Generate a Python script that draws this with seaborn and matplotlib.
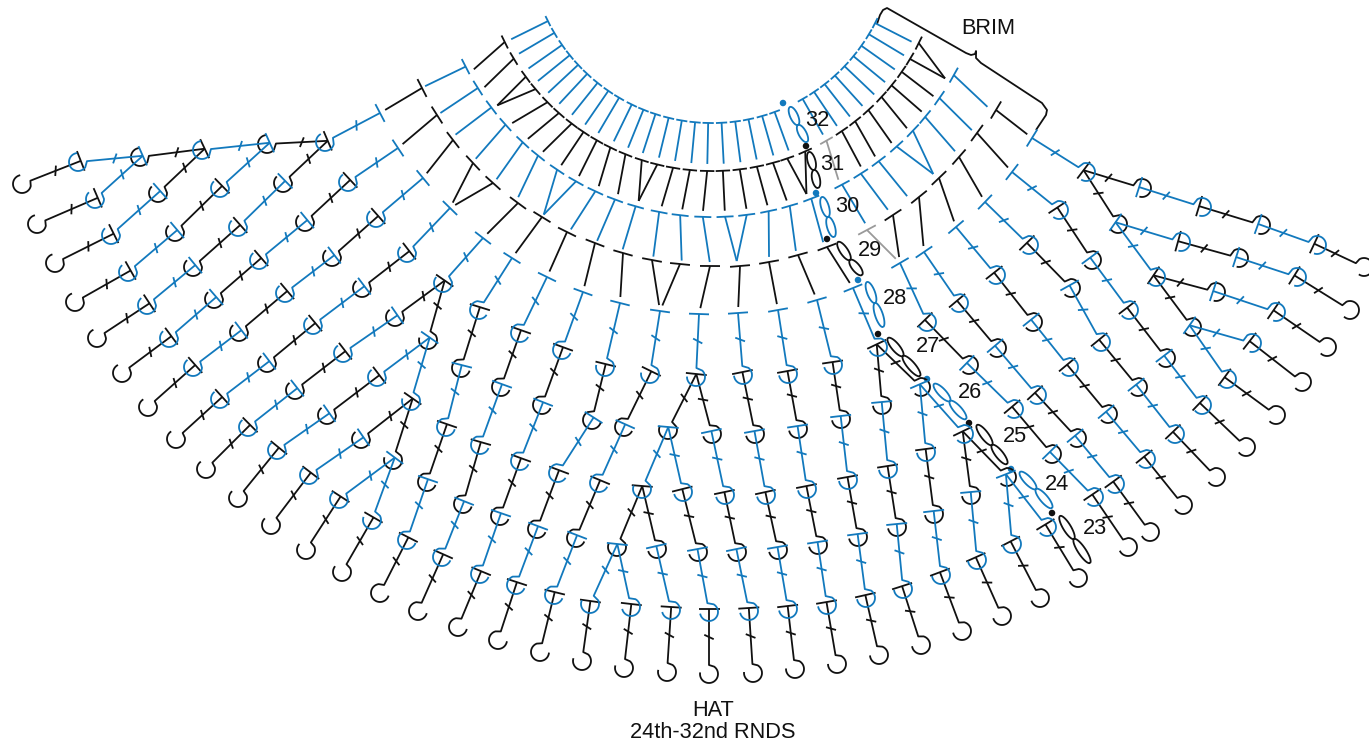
import numpy as np
import pandas as pd
import seaborn as sns
import matplotlib.pyplot as plt

# picture coordinates (x, y), y grows downward
# each chain: round 27 node, 26, 25, 24, 23, end hook
left_chains = [
    [(325,142),(267,144),(202,150),(140,157),(78,162),(22,184)],
    [(325,142),(267,144),(202,150),(140,157),(95,199),(37,224)],
    [(325,142),(267,144),(202,150),(158,193),(111,235),(55,263)],
    [(325,142),(267,144),(220,188),(175,232),(128,272),(75,302)],
    [(325,142),(283,183),(238,227),(193,267),(147,305),(97,338)],
    [(348,182),(305,222),(259,260),(214,299),(169,338),(122,373)],
    [(376,218),(332,257),(285,293),(239,332),(193,367),(148,407)],
    [(407,253),(362,288),(313,325),(267,363),(220,399),(176,439)],
    [(443,283),(395,317),(343,353),(295,390),(248,427),(206,469)],
    [(443,283),(428,340),(377,377),(327,415),(277,450),(238,498)],
    [(443,283),(428,340),(411,401),(361,439),(309,475),(271,525)],
    [(443,283),(428,340),(411,401),(393,460),(339,499),(306,550)],
    [(443,283),(428,340),(411,401),(393,460),(372,520),(342,572)],
]
# these columns have their hooks turned the other way
mirrored_chains = [
    [(479,310),(461,368),(446,427),(427,482),(407,540),(380,593)],
    [(520,333),(501,387),(480,445),(463,504),(442,557),(418,611)],
    [(562,350),(542,405),(520,461),(500,516),(480,574),(458,627)],
    [(605,367),(592,420),(558,473),(537,529),(516,585),(498,640)],
    [(650,374),(624,427),(599,483),(576,538),(554,595),(540,652)],
]
right_chains = [
    [(696,377),(668,430),(642,489),(617,547),(590,604),(582,661)],
    [(696,377),(668,430),(642,489),(617,547),(631,607),(624,668)],
    [(696,377),(668,430),(642,489),(657,549),(671,610),(667,672)],
    [(696,377),(668,430),(683,492),(698,552),(709,612),(709,674)],
    [(696,377),(712,434),(725,495),(737,552),(749,611),(753,673)],
    [(743,375),(755,434),(766,495),(778,550),(788,609),(795,669)],
    [(788,374),(798,429),(807,489),(818,545),(827,605),(837,664)],
    [(833,365),(841,419),(848,480),(858,537),(866,598),(879,655)],
    [(878,347),(882,405),(888,469),(897,527),(903,589),(921,645)],
    [(878,347),(921,387),(926,452),(934,514),(941,575),(962,631)],
    [(878,347),(921,387),(964,434),(971,495),(977,560),(1002,616)],
    [(878,347),(921,387),(964,434),(1007,477),(1012,544),(1040,598)],
    [(878,347),(921,387),(964,434),(1007,477),(1047,527),(1078,578)],
    [(927,322),(969,365),(1014,409),(1052,454),(1094,497),(1128,547)],
    [(959,303),(997,348),(1037,395),(1077,438),(1115,484),(1150,532)],
    [(996,275),(1033,322),(1069,367),(1108,414),(1146,459),(1183,505)],
    [(1029,245),(1071,288),(1101,342),(1138,387),(1175,434),(1216,477)],
    [(1059,210),(1092,260),(1129,310),(1166,358),(1202,405),(1246,447)],
    [(1086,172),(1118,224),(1156,277),(1192,327),(1227,379),(1276,415)],
    [(1086,172),(1118,224),(1156,277),(1192,327),(1252,343),(1302,382)],
    [(1086,172),(1118,224),(1156,277),(1216,292),(1276,312),(1327,347)],
    [(1086,172),(1118,224),(1181,242),(1239,258),(1297,277),(1350,310)],
    [(1086,172),(1142,188),(1202,207),(1261,225),(1317,245),(1364,267)],
]
stem_colors = ["black", "blue", "black", "blue", "black"]

# round 28 tops, same order as round 27 nodes
round27 = [(325,142),(348,182),(376,218),(407,253),(443,283),(479,310),(520,333),
           (562,350),(605,367),(650,374),(696,377),(743,375),(788,374),(833,365),
           (878,347),(927,322),(959,303),(996,275),(1029,245),(1059,210),(1086,172)]
round28 = [(380,113),(398,148),(423,178),(450,208),(483,238),(512,258),(547,277),
           (583,292),(620,303),(660,311),(699,314),(738,313),(778,310),(817,300),
           (853,288),(900,263),(924,252),(956,227),(985,202),(1012,172),(1032,138)]
# round 29 tops and the round 28 stitch each one goes into
round29 = [(422,88),(437,115),(453,140),(473,163),(493,183),(518,203),(542,217),(567,232),
           (595,243),(623,253),(652,260),(680,264),(710,266),(740,266),(769,262),(798,255),
           (827,247),(867,230),(893,215),(919,197),(939,178),(959,157),(977,133),(996,110)]
round29_into = [0,1,2,3,3,4,5,6,7,8,9,9,10,11,12,13,14,15,15,16,17,18,19,20]
round29_gray = [17]

# rounds 30-32 sit on arcs, angle in degrees from straight down
round30_top = [-62.8,-57.7,-52.8,-48.2,-43.1,-38.9,-34,-29.4,-24.9,-20.5,-16,-11,-6.6,-1.9,
               2.7,7.2,11.8,16.3,21,28,32.5,37,41.8,46.5,50.3,55.2,60.8]
round30_end = [-63,-57.5,-52.8,-47.2,-42,-37,-31.5,-31.5,-26,-20.9,-16.1,-10.5,-5.4,-0.4,
               4.4,4.4,10.2,15.1,20.2,28.4,33.1,37.3,43.4,43.4,49,53.8,58.8]
round31_top = [-63.8,-59.1,-53.7,-49.8,-45.4,-41.5,-37.4,-33.8,-29.9,-26.1,-22,-17.7,-13.7,-9.7,
               -5.5,-1.2,2.7,6.9,11.2,15.3,19,23.8,29.7,34.2,38.3,42.6,47.2,51,55.2,59,63.5]
round31_end = [-61.5,-57.1,-52.4,-52.4,-47.5,-42.8,-38.6,-33.8,-29.4,-24.7,-20.3,-15.7,-15.7,-10.7,
               -6.3,-1.9,2.7,7.3,11.8,16,20.4,20.4,27.8,33.3,37,41.5,46,50.7,54.8,59.3,59.3]
round31_gray = [22]
round32_top = [-63.7,-59.5,-55,-51,-47,-43,-38.7,-34.5,-30.5,-26,-22,-18,-13.7,-9.5,-5.3,-1.2,
               3,7.3,11.5,15.9,20,29.7,33.9,38,42.2,46.4,50.6,54.7,59,63]

# joining chains and the round numbers beside them
loop_labels = ["32","31","30","29","28","27","26","25","24","23"]
loop_colors = ["blue","black","blue","black","blue","black","blue","black","blue","black"]
loop_dots = [(783,103),(806,146),(816,193),(827,239),(858,280),(878,334),(927,379),(969,423),(1011,469),(1052,513)]
loop_start = [(790,107),(809,152),(822,197),(838,242),(867,282),(888,338),(934,384),(977,425),(1020,472),(1060,516)]
loop_mid = [(798,125),(814,170),(828,217),(850,260),(875,303),(903,356),(950,401),(992,445),(1036,489),(1074,539)]
loop_end = [(807,142),(818,188),(834,237),(862,275),(883,327),(920,376),(966,419),(1007,464),(1052,508),(1090,563)]
label_pos = [(817,120),(832,164),(847,207),(870,250),(895,299),(928,346),(970,393),(1015,436),(1057,484),(1095,529)]

brace = [(877,24),(880,15),(883,10),(887,8),(966,53),(971,55),(975,54),(976,51),(976,58),(981,63),
         (1042,103),(1047,110),(1046,115),(1036,130)]

CX, CY = 712, -60
R = 9.0
HALF_BAR = 10.5
palette = {"black": "#111111", "blue": "#1279BD", "gray": "#9A9A9A"}
rows = []
n_seg = 0


def add_line(points, color):
    global n_seg
    for x, y in points:
        rows.append((x, y, n_seg, color))
    n_seg += 1


def unit(a, b):
    v = np.array(b, float) - np.array(a, float)
    return v / np.hypot(*v)


def polar(r, deg):
    t = np.radians(deg)
    return np.array([CX + r * np.sin(t), CY + r * np.cos(t)])


def tangent(p):
    u = unit((CX, CY), p)
    return np.array([-u[1], u[0]])


def add_bar(center, along, half, color):
    center = np.array(center, float)
    add_line([center - along * half, center + along * half], color)


def add_tick(p, q, color):
    mid = (np.array(p, float) + np.array(q, float)) / 2
    d = unit(p, q)
    t = np.radians(25)
    perp = np.array([-d[1], d[0]])
    along = np.array([perp[0] * np.cos(t) - perp[1] * np.sin(t), perp[0] * np.sin(t) + perp[1] * np.cos(t)])
    add_bar(mid, along, 5.2, color)


def hook_points(c, up, mirrored, start, sweep):
    a0 = np.arctan2(up[1], up[0])
    sign = -1 if mirrored else 1
    ang = a0 + sign * np.radians(np.linspace(start, start + sweep, 30))
    return [(c[0] + R * np.cos(x), c[1] + R * np.sin(x)) for x in ang]


def add_stem(top, node, color, mirrored, is_end):
    # stem from a bar centre into the hook that sits round the next node
    up = unit(node, top)
    c = np.array(node, float)
    e = c + up * R
    if is_end:
        arc = hook_points(c, up, mirrored, 35, 245)
    else:
        arc = hook_points(c, up, mirrored, 42, 228)
    add_line([tuple(top), tuple(e)] + arc, color)
    add_tick(top, e, color)


# chain nodes: children and colours
children = {}
flip = set()
for group, is_flip in [(left_chains, False), (mirrored_chains, True), (right_chains, False)]:
    for chain in group:
        for i in range(5):
            children.setdefault(chain[i], {"kids": [], "color": stem_colors[i]})
            if chain[i + 1] not in children[chain[i]]["kids"]:
                children[chain[i]]["kids"].append(chain[i + 1])
        if is_flip:
            flip.update(chain)
# the two round 27 stitches at the start of these columns hook the usual way
flip.discard((605, 367))
flip.discard((650, 374))


def bar_center(node):
    kids = children[node]["kids"]
    d = sum(unit(node, k) for k in kids)
    d = d / np.hypot(*d)
    return np.array(node, float) - d * 3, d


ends = {c[-1] for g in (left_chains, mirrored_chains, right_chains) for c in g}
for node, info in children.items():
    b, d = bar_center(node)
    add_bar(b, np.array([-d[1], d[0]]), HALF_BAR, info["color"])
    for kid in info["kids"]:
        is_end = kid in ends
        add_stem(b, kid, info["color"], kid in flip, is_end)

# round 28 into round 27
for top, node in zip(round28, round27):
    add_bar(top, tangent(top), 10, "blue")
    add_stem(top, node, "blue", node in flip, False)

# round 29 into round 28
for i, (top, k) in enumerate(zip(round29, round29_into)):
    col = "gray" if i in round29_gray else "black"
    add_bar(top, tangent(top), 10, col)
    target = np.array(round28[k], float)
    add_line([top, tuple(target + unit(target, top) * 6)], col)

# arcs
for a, b in zip(round30_top, round30_end):
    p = polar(277, a)
    add_bar(p, tangent(p), 8.5, "blue")
    add_line([tuple(p), tuple(polar(322, b))], "blue")
for i, (a, b) in enumerate(zip(round31_top, round31_end)):
    col = "gray" if i in round31_gray else "black"
    p = polar(231, a)
    add_bar(p, tangent(p), 7.2, col)
    add_line([tuple(p), tuple(polar(271, b))], col)
for a in round32_top:
    p = polar(183, a)
    add_bar(p, tangent(p), 5.6, "blue")
    add_line([tuple(p), tuple(polar(224, a))], "blue")

# figure of eight chains
for p0, p1, p2, col in zip(loop_start, loop_mid, loop_end, loop_colors):
    for a, b in [(p0, p1), (p1, p2)]:
        m = (np.array(a, float) + np.array(b, float)) / 2
        d = unit(a, b)
        L = np.hypot(*(np.array(b, float) - np.array(a, float))) / 2
        n = np.array([-d[1], d[0]])
        t = np.linspace(0, 2 * np.pi, 50)
        add_line([tuple(m + d * L * np.cos(x) + n * 3.9 * np.sin(x)) for x in t], col)

add_line(brace, "black")

df = pd.DataFrame(rows, columns=["x", "y", "seg", "color"])

sns.set_theme(style="white")
plt.rcParams["font.family"] = ["Liberation Sans", "DejaVu Sans"]

fig = plt.figure(figsize=(13.69, 7.47), dpi=100)
ax = fig.add_axes([0, 0, 1, 1])
sns.lineplot(data=df, x="x", y="y", units="seg", hue="color", palette=palette, estimator=None,
             sort=False, legend=False, linewidth=1.3, solid_capstyle="butt", ax=ax)

dots = pd.DataFrame(loop_dots, columns=["x", "y"])
dots["color"] = loop_colors
sns.scatterplot(data=dots, x="x", y="y", hue="color", palette=palette, s=22, linewidth=0, legend=False, ax=ax)

for txt, (x, y) in zip(loop_labels, label_pos):
    ax.text(x, y, txt, fontsize=15.7, color="#111111", ha="center", va="center")
ax.text(988, 29, "BRIM", fontsize=15.7, color="#111111", ha="center", va="center")
ax.text(713, 711, "HAT", fontsize=15.7, color="#111111", ha="center", va="center")
ax.text(713, 732, "24th-32nd RNDS", fontsize=15.7, color="#111111", ha="center", va="center")

ax.set_xlim(0, 1369)
ax.set_ylim(747, 0)
ax.set_axis_off()
fig.savefig("out.png", dpi=100)
plt.close()
